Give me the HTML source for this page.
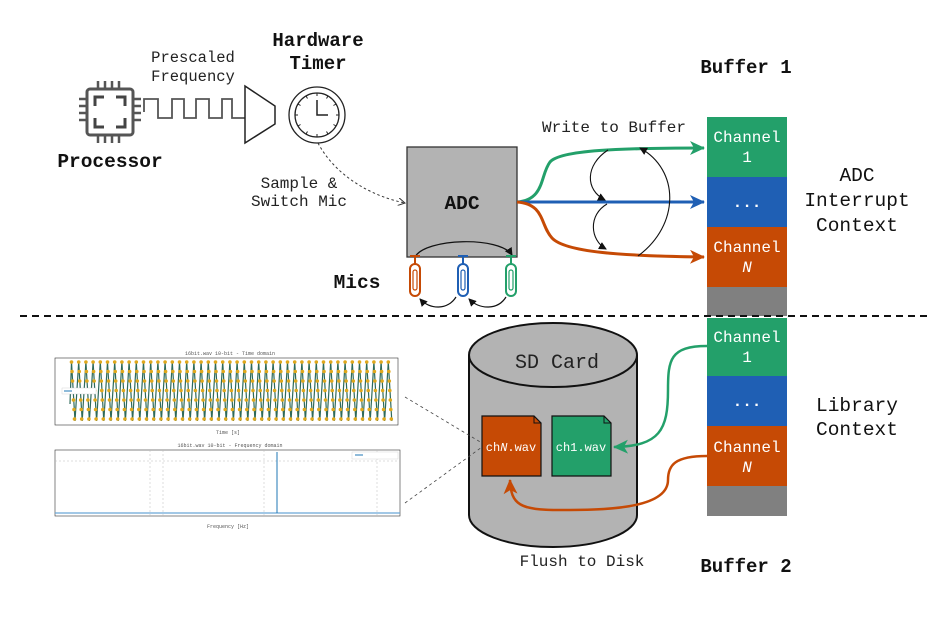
<!DOCTYPE html>
<html><head><meta charset="utf-8"><style>
html,body{margin:0;padding:0;background:#fff}
svg{display:block}
text{font-family:"Liberation Mono","DejaVu Sans Mono",monospace}
.b{font-weight:bold}
</style></head><body>
<svg id="s" width="946" height="632" viewBox="0 0 946 632" xmlns="http://www.w3.org/2000/svg">
<defs>
<marker id="ak" markerWidth="8" markerHeight="8" refX="7" refY="4" orient="auto" markerUnits="userSpaceOnUse"><path d="M0,0 L8,4 L0,8 Z" fill="#111"/></marker>
<marker id="ag" markerWidth="16" markerHeight="14" refX="14" refY="7" orient="auto" markerUnits="userSpaceOnUse"><path d="M0,0 L15,7 L0,14 L4,7 Z" fill="#23a06a"/></marker>
<marker id="ab" markerWidth="16" markerHeight="14" refX="14" refY="7" orient="auto" markerUnits="userSpaceOnUse"><path d="M0,0 L15,7 L0,14 L4,7 Z" fill="#1f5fb4"/></marker>
<marker id="ao" markerWidth="16" markerHeight="14" refX="14" refY="7" orient="auto" markerUnits="userSpaceOnUse"><path d="M0,0 L15,7 L0,14 L4,7 Z" fill="#c64a05"/></marker>
<marker id="ad" markerWidth="8" markerHeight="8" refX="7" refY="4" orient="auto" markerUnits="userSpaceOnUse"><path d="M0,0 L7,4 L0,8" fill="none" stroke="#333"/></marker>
</defs>

<!-- processor chip -->
<g stroke="#555" stroke-width="3" fill="none">
<rect x="87" y="89" width="46" height="46" rx="3"/>
<path d="M95,106 V97 H104 M116,97 H125 V106 M125,118 V127 H116 M104,127 H95 V118" stroke="#444"/>
<path d="M98,81 V89 M105,81 V89 M112,81 V89 M119,81 V89 M98,135 V143 M105,135 V143 M112,135 V143 M119,135 V143 M79,99 H87 M79,106 H87 M79,113 H87 M79,120 H87 M133,99 H141 M133,106 H141 M133,113 H141 M133,120 H141" stroke-width="2.5"/>
</g>
<text x="110" y="167" font-size="19.5" class="b" text-anchor="middle" fill="#111">Processor</text>
<!-- square wave -->
<path d="M144,112 V99 H158 V118 H172 V99 H184 V118 H196 V99 H209 V118 H222 V99 H232 V118 H245" fill="none" stroke="#555" stroke-width="1.8"/>
<text x="193" y="62" font-size="15.5" text-anchor="middle" fill="#222">Prescaled</text>
<text x="193" y="81" font-size="15.5" text-anchor="middle" fill="#222">Frequency</text>
<!-- trapezoid -->
<path d="M245,86 L275,106 L275,124 L245,143 Z" fill="#fff" stroke="#222" stroke-width="1.5"/>
<!-- clock -->
<circle cx="317" cy="115" r="28" fill="#fff" stroke="#222" stroke-width="1.3"/>
<circle cx="317" cy="115" r="22" fill="#fff" stroke="#222" stroke-width="1.3"/>
<path d="M317,100 V115 H328" fill="none" stroke="#222" stroke-width="1.5"/>
<g id="ticks" stroke="#222" stroke-width="1"></g>
<text x="318" y="46" font-size="19" class="b" text-anchor="middle" fill="#111">Hardware</text>
<text x="318" y="69" font-size="19" class="b" text-anchor="middle" fill="#111">Timer</text>
<text x="299" y="188" font-size="16" text-anchor="middle" fill="#222">Sample &amp;</text>
<text x="299" y="206" font-size="16" text-anchor="middle" fill="#222">Switch Mic</text>
<path d="M318,143 C335,175 370,196 405,203" fill="none" stroke="#333" stroke-dasharray="2.5,2.5" stroke-width="1" marker-end="url(#ad)"/>

<!-- ADC -->
<rect x="407" y="147" width="110" height="110" fill="#b3b3b3" stroke="#333" stroke-width="1.3"/>
<text x="462" y="209" font-size="19.5" class="b" text-anchor="middle" fill="#111">ADC</text>
<path d="M415,257 C425,238 500,236 512,255" fill="none" stroke="#111" stroke-width="1.2" marker-end="url(#ak)"/>
<!-- mics -->
<g fill="none" stroke-width="2">
<g stroke="#c64a05"><path d="M410,256 H420 M415,256 V264"/><rect x="410" y="264" width="10" height="32" rx="5"/><rect x="413" y="270" width="4" height="20" rx="2" stroke-width="1.2"/></g>
<g stroke="#1f5fb4"><path d="M458,256 H468 M463,256 V264"/><rect x="458" y="264" width="10" height="32" rx="5"/><rect x="461" y="270" width="4" height="20" rx="2" stroke-width="1.2"/></g>
<g stroke="#23a06a"><path d="M506,256 H516 M511,256 V264"/><rect x="506" y="264" width="10" height="32" rx="5"/><rect x="509" y="270" width="4" height="20" rx="2" stroke-width="1.2"/></g>
</g>
<path d="M456,297 C448,310 430,310 420,299" fill="none" stroke="#111" stroke-width="1.2" marker-end="url(#ak)"/>
<path d="M506,297 C498,310 480,310 469,299" fill="none" stroke="#111" stroke-width="1.2" marker-end="url(#ak)"/>
<text x="357" y="288" font-size="19.5" class="b" text-anchor="middle" fill="#111">Mics</text>

<!-- colored write arrows -->
<path d="M517,202 C545,200 540,175 550,162 C560,150 620,148 704,148" fill="none" stroke="#23a06a" stroke-width="3" marker-end="url(#ag)"/>
<path d="M517,202 H704" fill="none" stroke="#1f5fb4" stroke-width="3" marker-end="url(#ab)"/>
<path d="M517,202 C545,204 540,225 552,238 C565,252 620,256 704,257" fill="none" stroke="#c64a05" stroke-width="3" marker-end="url(#ao)"/>
<text x="614" y="132" font-size="16" text-anchor="middle" fill="#222">Write to Buffer</text>
<g fill="none" stroke="#111" stroke-width="1.1">
<path d="M608,150 C585,165 585,190 605,200" marker-end="url(#ak)"/>
<path d="M607,204 C588,215 590,240 606,249" marker-end="url(#ak)"/>
<path d="M638,256 C680,225 680,170 640,148" marker-end="url(#ak)"/>
</g>

<!-- Buffer 1 -->
<rect x="707" y="117" width="80" height="60" fill="#23a06a"/>
<rect x="707" y="177" width="80" height="50" fill="#1f5fb4"/>
<rect x="707" y="227" width="80" height="60" fill="#c64a05"/>
<rect x="707" y="287" width="80" height="29" fill="#808080"/>
<text x="747" y="142" font-size="16" text-anchor="middle" fill="#fff">Channel</text>
<text x="747" y="162" font-size="16" text-anchor="middle" fill="#fff">1</text>
<text x="747" y="207" font-size="16" text-anchor="middle" fill="#fff" class="b">...</text>
<text x="747" y="252" font-size="16" text-anchor="middle" fill="#fff">Channel</text>
<text x="747" y="272" font-size="16" text-anchor="middle" fill="#fff" font-style="italic">N</text>
<text x="746" y="73" font-size="19" class="b" text-anchor="middle" fill="#111">Buffer 1</text>
<text x="857" y="181" font-size="19.5" text-anchor="middle" fill="#111">ADC</text>
<text x="857" y="206" font-size="19.5" text-anchor="middle" fill="#111">Interrupt</text>
<text x="857" y="231" font-size="19.5" text-anchor="middle" fill="#111">Context</text>

<!-- dashed separator -->
<line x1="20" y1="316" x2="930" y2="316" stroke="#111" stroke-width="2" stroke-dasharray="7,5"/>

<!-- Buffer 2 -->
<rect x="707" y="318" width="80" height="58" fill="#23a06a"/>
<rect x="707" y="376" width="80" height="50" fill="#1f5fb4"/>
<rect x="707" y="426" width="80" height="60" fill="#c64a05"/>
<rect x="707" y="486" width="80" height="30" fill="#808080"/>
<text x="747" y="342" font-size="16" text-anchor="middle" fill="#fff">Channel</text>
<text x="747" y="362" font-size="16" text-anchor="middle" fill="#fff">1</text>
<text x="747" y="406" font-size="16" text-anchor="middle" fill="#fff" class="b">...</text>
<text x="747" y="452" font-size="16" text-anchor="middle" fill="#fff">Channel</text>
<text x="747" y="472" font-size="16" text-anchor="middle" fill="#fff" font-style="italic">N</text>
<text x="746" y="572" font-size="19" class="b" text-anchor="middle" fill="#111">Buffer 2</text>
<text x="857" y="411" font-size="19.5" text-anchor="middle" fill="#111">Library</text>
<text x="857" y="435" font-size="19.5" text-anchor="middle" fill="#111">Context</text>

<!-- SD card -->
<path d="M469,355 V515 A84,32 0 0 0 637,515 V355" fill="#b3b3b3" stroke="#111" stroke-width="2"/>
<ellipse cx="553" cy="355" rx="84" ry="32" fill="#b3b3b3" stroke="#111" stroke-width="2"/>
<text x="557" y="368" font-size="20" text-anchor="middle" fill="#222">SD Card</text>
<path d="M482,416 H534 L541,423 V476 H482 Z" fill="#c64a05" stroke="#111" stroke-width="1.2"/>
<path d="M534,416 V423 H541" fill="none" stroke="#111"/>
<path d="M552,416 H604 L611,423 V476 H552 Z" fill="#23a06a" stroke="#111" stroke-width="1.2"/>
<path d="M604,416 V423 H611" fill="none" stroke="#111"/>
<text x="511" y="451" font-size="12" text-anchor="middle" fill="#fff">ch<tspan font-style="italic">N</tspan>.wav</text>
<text x="581" y="451" font-size="12" text-anchor="middle" fill="#fff">ch1.wav</text>
<path d="M707,346 C670,346 668,360 668,390 C668,430 660,446 614,447" fill="none" stroke="#23a06a" stroke-width="2.5" marker-end="url(#ag)"/>
<path d="M707,456 C675,456 668,465 668,480 C668,510 600,510 560,510 C520,510 511,505 510,480" fill="none" stroke="#c64a05" stroke-width="2.5" marker-end="url(#ao)"/>
<text x="582" y="566" font-size="16" text-anchor="middle" fill="#222">Flush to Disk</text>

<!-- dashed links to plot -->
<path d="M405,397 L482,443 M405,503 L482,447" stroke="#444" stroke-width="0.8" stroke-dasharray="3,3" fill="none"/>

<!-- plots -->
<g font-size="5" fill="#555">
<text x="230" y="355" text-anchor="middle">16bit.wav 10-bit - Time domain</text>
<rect x="55" y="358" width="343" height="67" fill="none" stroke="#333" stroke-width="0.6"/>
<g id="wave"></g>
<rect x="62" y="388" width="34" height="6" fill="#fff" stroke="#ccc" stroke-width="0.4"/>
<line x1="64" y1="391" x2="72" y2="391" stroke="#1f77b4"/>
<text x="228" y="434" text-anchor="middle">Time [s]</text>
<text x="230" y="447" text-anchor="middle">16bit.wav 10-bit - Frequency domain</text>
<rect x="55" y="450" width="345" height="66" fill="none" stroke="#333" stroke-width="0.6"/>
<g stroke="#bbb" stroke-width="0.5" stroke-dasharray="2,2">
<line x1="150" y1="450" x2="150" y2="516"/><line x1="163" y1="450" x2="163" y2="516"/>
<line x1="264" y1="450" x2="264" y2="516"/><line x1="377" y1="450" x2="377" y2="516"/>
<line x1="55" y1="461" x2="400" y2="461"/>
</g>
<line x1="55" y1="513" x2="400" y2="513" stroke="#6aa6d6" stroke-width="1.2"/>
<line x1="277" y1="513" x2="277" y2="452" stroke="#1f77b4" stroke-width="1"/>
<rect x="352" y="452" width="46" height="7" fill="#fff" stroke="#ccc" stroke-width="0.4"/>
<line x1="355" y1="455" x2="363" y2="455" stroke="#1f77b4"/>
<text x="228" y="528" text-anchor="middle">Frequency [Hz]</text>
</g>
</svg>
<script>
var ns="http://www.w3.org/2000/svg";
var t=document.getElementById("ticks");
for(var i=0;i<12;i++){var a=i*Math.PI/6,c=317,d=115;var l=document.createElementNS(ns,"line");
l.setAttribute("x1",c+19*Math.cos(a));l.setAttribute("y1",d+19*Math.sin(a));l.setAttribute("x2",c+22*Math.cos(a));l.setAttribute("y2",d+22*Math.sin(a));t.appendChild(l);}
var w=document.getElementById("wave");var p="M70,404";var dots="";
for(var x=70;x<=388;x+=7.2){p+=" L"+(x+1.5)+",362 L"+(x+5)+",421";
for(var k=0;k<7;k++){var yy=362+k*9.5;dots+='<circle cx="'+(x+1.5+k*0.5)+'" cy="'+yy+'" r="1.8" fill="#e0a81c"/>';}}
w.innerHTML='<path d="'+p+'" fill="none" stroke="#2f6a5a" stroke-width="1.2"/>'+dots;
</script>
</body></html>
